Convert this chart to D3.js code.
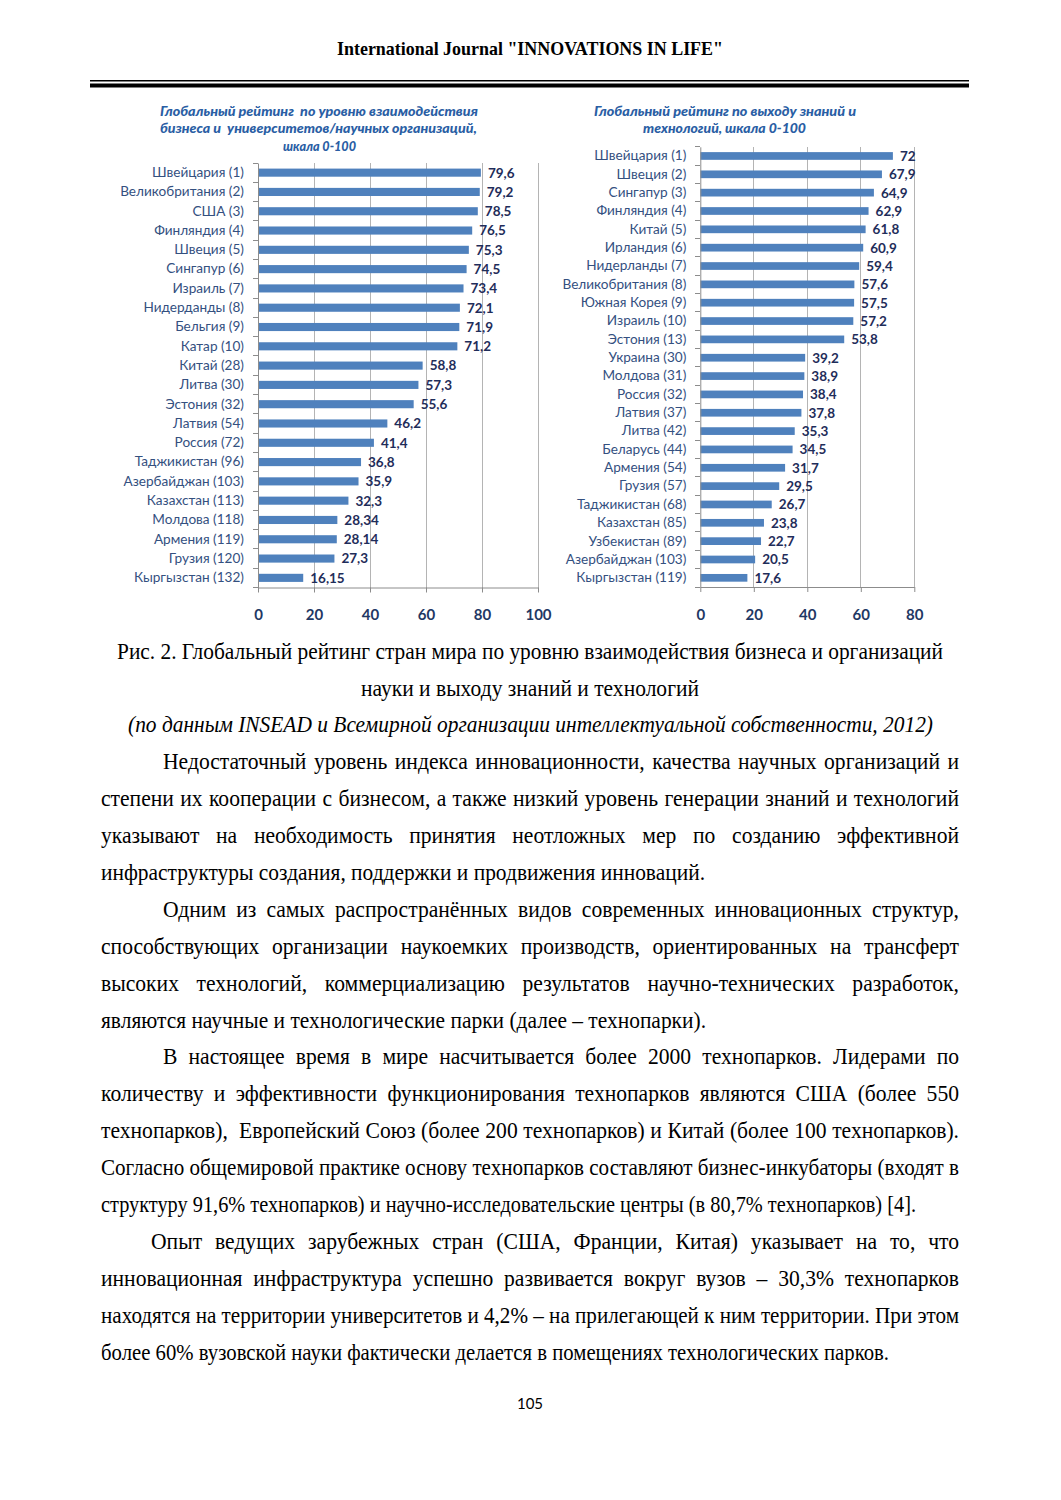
<!DOCTYPE html>
<html><head><meta charset="utf-8">
<script src="https://cdn.jsdelivr.net/npm/d3@7"></script>
<style>body{margin:0;background:#fff}</style>
</head><body><svg id="page" width="1061" height="1500"></svg>
<script>
// ---------- DATA ----------
const leftTitle = ["Глобальный рейтинг  по уровню взаимодействия", "бизнеса и  университетов/научных организаций,", "шкала 0-100"];
const leftCategories = ["Швейцария (1)","Великобритания (2)","США (3)","Финляндия (4)","Швеция (5)","Сингапур (6)","Израиль (7)","Нидерданды (8)","Бельгия (9)","Катар (10)","Китай (28)","Литва (30)","Эстония (32)","Латвия (54)","Россия (72)","Таджикистан (96)","Азербайджан (103)","Казахстан (113)","Молдова (118)","Армения (119)","Грузия (120)","Кыргызстан (132)"];
const leftValues = [79.6,79.2,78.5,76.5,75.3,74.5,73.4,72.1,71.9,71.2,58.8,57.3,55.6,46.2,41.4,36.8,35.9,32.3,28.34,28.14,27.3,16.15];
const leftTicks = [0,20,40,60,80,100];

const rightTitle = ["Глобальный рейтинг по выходу знаний и", "технологий, шкала 0-100"];
const rightCategories = ["Швейцария (1)","Швеция (2)","Сингапур (3)","Финляндия (4)","Китай (5)","Ирландия (6)","Нидерланды (7)","Великобритания (8)","Южная Корея (9)","Израиль (10)","Эстония (13)","Украина (30)","Молдова (31)","Россия (32)","Латвия (37)","Литва (42)","Беларусь (44)","Армения (54)","Грузия (57)","Таджикистан (68)","Казахстан (85)","Узбекистан (89)","Азербайджан (103)","Кыргызстан (119)"];
const rightValues = [72,67.9,64.9,62.9,61.8,60.9,59.4,57.6,57.5,57.2,53.8,39.2,38.9,38.4,37.8,35.3,34.5,31.7,29.5,26.7,23.8,22.7,20.5,17.6];
const rightTicks = [0,20,40,60,80];

const headerText = "International Journal \"INNOVATIONS IN LIFE\"";
const captionLines = [
  "Рис. 2. Глобальный рейтинг стран мира по уровню взаимодействия бизнеса и организаций",
  "науки и выходу знаний и технологий",
  "(по данным INSEAD и Всемирной организации интеллектуальной собственности, 2012)"
];
const bodyLines = [
  "Недостаточный уровень индекса инновационности, качества научных организаций и",
  "степени их кооперации с бизнесом, а также низкий уровень генерации знаний и технологий",
  "указывают на необходимость принятия неотложных мер по созданию эффективной",
  "инфраструктуры создания, поддержки и продвижения инноваций.",
  "Одним из самых распространённых видов современных инновационных структур,",
  "способствующих организации наукоемких производств, ориентированных на трансферт",
  "высоких технологий, коммерциализацию результатов научно-технических разработок,",
  "являются научные и технологические парки (далее – технопарки).",
  "В настоящее время в мире насчитывается более 2000 технопарков. Лидерами по",
  "количеству и эффективности функционирования технопарков являются США (более 550",
  "технопарков),  Европейский Союз (более 200 технопарков) и Китай (более 100 технопарков).",
  "Согласно общемировой практике основу технопарков составляют бизнес-инкубаторы (входят в",
  "структуру 91,6% технопарков) и научно-исследовательские центры (в 80,7% технопарков) [4].",
  "Опыт ведущих зарубежных стран (США, Франции, Китая) указывает на то, что",
  "инновационная инфраструктура успешно развивается вокруг вузов – 30,3% технопарков",
  "находятся на территории университетов и 4,2% – на прилегающей к ним территории. При этом",
  "более 60% вузовской науки фактически делается в помещениях технологических парков."
];
const pageNumber = "105";

// ---------- LAYOUT ----------
const svg = d3.select("#page");
svg.append("rect").attr("width",1061).attr("height",1500).attr("fill","#fff");

const ru = d3.formatLocale({decimal:",", thousands:" ", grouping:[3], currency:["",""]});
const fmt = ru.format("~f");

const BAR = "#4F81BD", CAT = "#34507f", VAL = "#1f2d5a", TICK = "#1f3864", TITLE = "#2a5ea4";
const GRID = "#b4b4b4", AXIS = "#8c8c8c";
const CH_FONT = "Lato, 'Open Sans', sans-serif";

function drawChart(c) {
  const g = svg.append("g");
  const x = d3.scaleLinear().domain([0, c.ticks[c.ticks.length-1]]).range([c.x0, c.x1]);
  const y = d3.scaleBand().domain(c.categories).range([c.y0, c.y1]).paddingInner(0.58).paddingOuter(0.29);
  const step = y.step();

  g.selectAll(".grid").data(c.ticks.filter(t => t > 0)).join("line")
    .attr("x1", d => x(d)).attr("x2", d => x(d))
    .attr("y1", c.y0).attr("y2", c.y1)
    .attr("stroke", GRID).attr("stroke-width", 1).attr("shape-rendering","crispEdges");

  g.selectAll(".bar").data(c.values).join("rect")
    .attr("x", x(0)).attr("y", (d,i) => y(c.categories[i]))
    .attr("width", d => x(d) - x(0)).attr("height", y.bandwidth())
    .attr("fill", BAR);

  g.selectAll(".val").data(c.values).join("text")
    .attr("x", d => x(d) + 7).attr("y", (d,i) => y(c.categories[i]) + y.bandwidth()/2)
    .attr("dy","0.36em").attr("font-family", CH_FONT).attr("font-weight","bold")
    .attr("font-size","13.5px").attr("fill", VAL).text(d => fmt(d));

  const ay = g.append("g").attr("transform", `translate(${c.x0},0)`)
    .call(d3.axisLeft(y).tickSize(0).tickPadding(14));
  ay.select(".domain").attr("stroke", AXIS);
  ay.selectAll("text").attr("font-family", CH_FONT).attr("font-size","13.6px").attr("fill", CAT);
  g.selectAll(".bt").data(d3.range(c.categories.length + 1)).join("line")
    .attr("x1", c.x0 - 5).attr("x2", c.x0)
    .attr("y1", i => y.range()[0] + i*step).attr("y2", i => y.range()[0] + i*step)
    .attr("stroke", AXIS).attr("shape-rendering","crispEdges");

  const ax = g.append("g").attr("transform", `translate(0,${c.y1})`)
    .call(d3.axisBottom(x).tickValues(c.ticks).tickSize(5).tickSizeOuter(0).tickPadding(17));
  ax.select(".domain").attr("stroke", AXIS);
  ax.selectAll("line").attr("stroke", AXIS);
  ax.selectAll("text").attr("font-family", CH_FONT).attr("font-weight","bold")
    .attr("font-size","15px").attr("fill", TICK);

  c.title.forEach((t, i) => {
    const [tx0, tx1] = c.titleSpans[i];
    svg.append("text")
      .attr("x", tx0).attr("y", c.titleY + i*17.5)
      .attr("font-family", CH_FONT).attr("font-style","italic")
      .attr("font-weight","900").attr("font-size","13.5px").attr("fill", TITLE)
      .attr("textLength", tx1 - tx0).attr("lengthAdjust","spacingAndGlyphs")
      .attr("xml:space","preserve").style("white-space","pre").text(t);
  });
}

drawChart({categories:leftCategories, values:leftValues, ticks:leftTicks,
  x0:258, x1:538, y0:163, y1:587.5, title:leftTitle,
  titleSpans:[[160,478],[160,477],[283,356]], titleY:115.5});
drawChart({categories:rightCategories, values:rightValues, ticks:rightTicks,
  x0:700.3, x1:914.3, y0:146.8, y1:587, title:rightTitle,
  titleSpans:[[594,856],[643,806]], titleY:115.5});

// ---------- PAGE TEXT ----------
const SERIF = "'Liberation Serif', 'Times New Roman', serif";
function fitText(t, x, x2, yc, opts) {
  const o = Object.assign({size:24, scale:0.9, weight:"normal", style:"normal", family:SERIF, force:false}, opts||{});
  const el = svg.append("text")
    .attr("transform", `translate(${x},${yc + o.size*0.33}) scale(${o.scale},1)`)
    .attr("font-family", o.family).attr("font-size", o.size + "px")
    .attr("font-weight", o.weight).attr("font-style", o.style).attr("fill","#000")
    .attr("xml:space","preserve").style("white-space","pre").text(t);
  const target = (x2 - x) / o.scale;
  const w = el.node().getComputedTextLength();
  const spaces = (t.match(/ /g) || []).length;
  if (o.force || w > target || spaces === 0) {
    el.attr("textLength", target).attr("lengthAdjust", "spacingAndGlyphs");
  } else {
    el.attr("word-spacing", (target - w) / spaces);
  }
  return el;
}

fitText(headerText, 337, 723, 49, {size:19, weight:"bold", scale:1, force:true});
svg.append("rect").attr("x",90).attr("y",80).attr("width",879).attr("height",1.5).attr("fill","#000");
svg.append("rect").attr("x",90).attr("y",83.5).attr("width",879).attr("height",4).attr("fill","#000");

const capPos = [[117,943,651],[361,699,688],[128,933,724]];
captionLines.forEach((t,i) => fitText(t, capPos[i][0], capPos[i][1], capPos[i][2], {style: i===2 ? "italic" : "normal"}));

const bodyPos = [
  [163,959,761],[101,959,798],[101,959,835],[101,705,872],
  [163,959,909],[101,959,946],[101,959,983],[101,706,1020],
  [163,959,1056],[101,959,1093],[101,959,1130],[101,959,1167],[101,916,1204],
  [151,959,1241],[101,959,1278],[101,959,1315],[101,889,1352]
];
bodyLines.forEach((t,i) => fitText(t, bodyPos[i][0], bodyPos[i][1], bodyPos[i][2]));

svg.append("text").attr("x",530).attr("y",1409).attr("text-anchor","middle")
  .attr("font-family", CH_FONT).attr("font-size","15px").attr("fill","#000").text(pageNumber);
</script>
</body></html>
